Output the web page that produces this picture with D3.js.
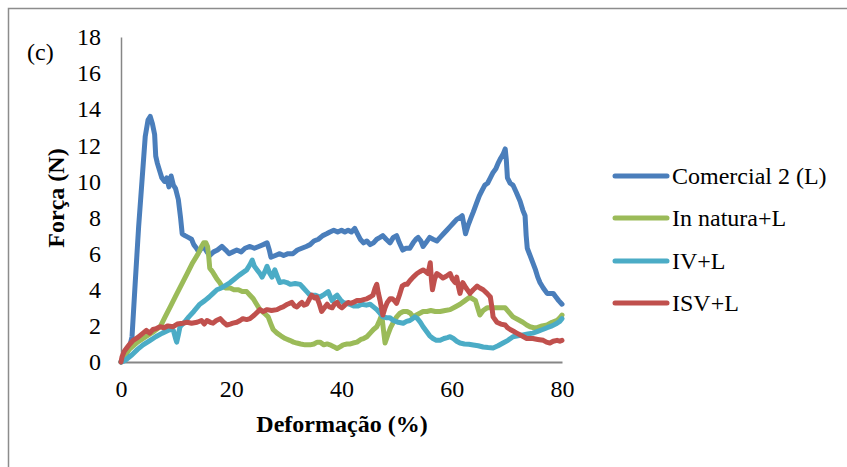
<!DOCTYPE html>
<html>
<head>
<meta charset="utf-8">
<script src="https://cdn.jsdelivr.net/npm/d3@7/dist/d3.min.js"></script>
<style>
  html, body { margin: 0; padding: 0; background: #fff; }
  svg { display: block; }
  text { font-family: "Liberation Serif", "Times New Roman", serif; fill: #000; }
</style>
</head>
<body>
<svg id="chart" width="847" height="467"></svg>
<script>
// Force–deformation curves, values as [deformation %, force N]
const comercial2 = [[0,0],[0.8,0.3],[1.6,0.9],[2.0,1.4],[2.6,4.5],[3.2,7.5],[3.8,10],[4.4,12.5],[4.9,13.4],[5.3,13.6],[5.7,13.2],[6.1,12.6],[6.3,11.4],[6.6,11.0],[7.0,10.6],[7.4,10.2],[7.9,10.0],[8.3,10.2],[8.7,9.7],[9.1,10.3],[9.5,9.8],[9.9,9.6],[10.4,9.0],[10.8,8.0],[11.1,7.1],[11.6,7.0],[12.2,6.9],[12.8,6.8],[13.2,6.5],[13.7,6.3],[14.1,6.1],[14.6,6.3],[15.0,6.4],[15.6,6.1],[16.1,5.9],[16.8,6.1],[17.5,6.2],[18.3,6.4],[19.0,6.2],[19.6,6.0],[20.3,6.1],[21.0,6.2],[21.8,6.1],[22.5,6.3],[23.4,6.4],[24.2,6.3],[25.0,6.4],[25.8,6.5],[26.5,6.6],[26.9,6.2],[27.2,5.8],[28.0,5.9],[28.8,6.0],[29.5,5.9],[30.3,6.0],[31.2,6.0],[32.0,6.2],[32.8,6.3],[33.6,6.4],[34.3,6.5],[35.0,6.7],[35.8,6.8],[36.6,7.0],[37.3,7.1],[37.9,7.2],[38.6,7.3],[39.3,7.2],[40.0,7.3],[40.6,7.2],[41.2,7.3],[41.8,7.2],[42.4,7.4],[42.9,7.1],[43.4,6.8],[44.0,6.6],[44.6,6.7],[45.2,6.5],[45.8,6.6],[46.4,6.8],[47.0,6.9],[47.5,7.0],[48.1,6.8],[48.8,6.6],[49.4,6.9],[50.0,7.0],[50.5,6.6],[51.1,6.2],[51.7,6.3],[52.4,6.3],[53.0,6.6],[53.5,6.8],[53.9,6.9],[54.4,6.7],[54.8,6.4],[55.3,6.6],[56.0,6.9],[56.6,6.8],[57.3,6.7],[57.9,6.9],[58.5,7.1],[59.1,7.3],[59.7,7.5],[60.3,7.7],[60.9,7.9],[61.5,8.0],[61.9,8.1],[62.2,7.6],[62.5,7.1],[63.0,7.6],[63.5,8.0],[63.9,8.3],[64.5,8.8],[65.0,9.2],[65.5,9.5],[66.0,9.8],[66.5,9.9],[67.0,10.2],[67.5,10.5],[68.0,10.7],[68.4,11.0],[68.9,11.3],[69.3,11.5],[69.7,11.8],[69.9,11.2],[70.1,10.2],[70.6,9.9],[71.1,9.8],[71.7,9.4],[72.4,8.9],[72.9,8.4],[73.3,8.1],[73.5,7.0],[73.7,6.3],[74.2,5.9],[74.7,5.5],[75.2,5.1],[75.6,4.7],[76.0,4.4],[76.6,4.1],[77.3,3.8],[77.9,3.8],[78.4,3.8],[78.9,3.6],[79.4,3.4],[80.0,3.2]];

const inNatura = [[0,0],[0.5,0.3],[1.5,0.7],[3,1.1],[4.5,1.4],[6,1.7],[7.1,1.95],[8.0,2.5],[9.0,3.1],[10.0,3.7],[11.0,4.3],[12.0,4.9],[13.0,5.5],[14.0,6.0],[14.6,6.4],[15.0,6.6],[15.4,6.6],[15.7,6.4],[15.9,5.9],[16.1,5.2],[16.6,5.0],[17.0,4.8],[17.4,4.6],[17.9,4.4],[18.3,4.2],[19.0,4.1],[19.8,4.1],[20.5,4.0],[21.3,4.0],[22.0,3.9],[22.8,3.9],[23.4,3.7],[24.0,3.5],[24.6,3.2],[25.2,2.9],[26.0,2.7],[26.7,2.5],[27.2,2.1],[27.6,1.8],[28.3,1.6],[29.0,1.45],[29.8,1.3],[30.6,1.2],[31.3,1.1],[31.9,1.05],[32.6,1.0],[33.4,0.95],[34.3,0.95],[35.0,1.0],[35.6,1.1],[36.1,1.1],[36.8,0.95],[37.4,1.0],[37.9,0.95],[38.6,0.85],[39.2,0.75],[39.8,0.85],[40.3,0.95],[41.0,1.0],[41.6,1.0],[42.1,1.05],[42.8,1.1],[43.5,1.25],[44.0,1.3],[44.6,1.4],[45.2,1.6],[45.8,1.8],[46.4,1.95],[46.9,2.3],[47.3,2.6],[47.6,1.8],[47.9,1.05],[48.4,1.5],[48.9,1.9],[49.4,2.2],[50.0,2.5],[50.6,2.7],[51.2,2.8],[51.9,2.8],[52.5,2.7],[53.0,2.5],[53.6,2.6],[54.2,2.7],[54.8,2.8],[55.5,2.8],[56.2,2.85],[57.0,2.8],[57.9,2.8],[58.8,2.85],[59.7,2.9],[60.6,3.05],[61.5,3.2],[62.4,3.4],[63.3,3.6],[63.8,3.5],[64.3,3.4],[64.7,3.0],[65.1,2.6],[65.7,2.85],[66.4,3.0],[67.2,3.0],[68.0,3.0],[68.8,3.0],[69.7,3.0],[70.4,2.75],[71.1,2.5],[72.0,2.35],[72.9,2.2],[73.6,2.05],[74.2,1.95],[74.9,1.9],[75.5,1.9],[76.4,2.0],[77.3,2.05],[78.2,2.2],[79.1,2.3],[79.6,2.45],[80.0,2.6]];

const ivL = [[0,0],[0.5,0.05],[1.0,0.15],[2.0,0.4],[3.0,0.7],[4.0,0.95],[5.3,1.2],[6.3,1.4],[7.5,1.6],[8.9,1.8],[9.5,1.75],[9.9,1.3],[10.1,1.1],[10.4,1.5],[10.7,1.95],[11.5,2.2],[12.3,2.5],[13.2,2.8],[14.3,3.2],[15.2,3.4],[16.0,3.6],[16.7,3.8],[17.4,4.0],[18.2,4.1],[19.0,4.25],[19.8,4.4],[20.6,4.6],[21.4,4.8],[22.1,4.95],[22.8,5.1],[23.4,5.4],[23.8,5.65],[24.2,5.3],[24.7,5.1],[25.2,4.9],[25.6,4.7],[26.1,5.0],[26.5,5.3],[27.0,4.9],[27.4,4.7],[27.9,5.1],[28.4,4.7],[28.8,4.4],[29.5,4.45],[30.1,4.4],[30.7,4.3],[31.6,4.35],[32.5,4.3],[33.1,4.1],[33.7,3.9],[34.3,3.7],[35.2,3.7],[36.1,3.6],[36.9,3.75],[37.6,3.9],[38.0,3.6],[38.3,3.4],[38.8,3.6],[39.2,3.7],[39.8,3.45],[40.3,3.3],[40.9,3.25],[41.5,3.2],[42.2,3.1],[43.0,3.1],[43.7,3.2],[44.5,3.15],[45.2,3.2],[45.8,3.05],[46.4,2.9],[47.0,2.7],[47.5,2.5],[48.2,2.45],[48.8,2.45],[49.4,2.3],[50.3,2.2],[51.2,2.15],[51.8,2.25],[52.4,2.3],[52.9,2.4],[53.3,2.5],[53.8,2.4],[54.3,2.2],[54.8,1.95],[55.4,1.7],[56.0,1.45],[56.6,1.3],[57.2,1.2],[57.9,1.2],[58.6,1.3],[59.2,1.35],[59.7,1.4],[60.3,1.3],[60.9,1.15],[61.5,1.05],[62.3,1.0],[63.1,0.98],[63.9,0.94],[64.8,0.9],[65.7,0.83],[66.6,0.8],[67.5,0.78],[68.4,0.9],[69.3,1.05],[70.2,1.2],[71.1,1.4],[72.0,1.45],[72.9,1.5],[73.8,1.55],[74.7,1.6],[75.6,1.7],[76.5,1.8],[77.3,1.9],[78.2,2.0],[79.1,2.15],[79.6,2.25],[80.0,2.4]];

const isvL = [[0,0],[0.2,0.3],[0.6,0.6],[1.1,0.8],[1.6,1.0],[2.2,1.2],[3.0,1.35],[4.0,1.6],[4.6,1.75],[5.2,1.6],[5.8,1.8],[6.4,1.85],[7.1,1.95],[7.8,1.9],[8.5,2.0],[9.4,1.95],[10.2,2.1],[11.2,2.15],[12.0,2.2],[12.8,2.15],[13.8,2.2],[14.6,2.3],[15.1,2.1],[15.6,2.3],[16.2,2.2],[16.7,2.15],[17.3,2.3],[18.0,2.4],[18.6,2.2],[19.2,2.05],[19.8,2.1],[20.3,2.15],[21.0,2.2],[21.6,2.3],[22.1,2.4],[22.8,2.35],[23.4,2.4],[24.2,2.6],[25.2,2.9],[25.8,2.8],[26.5,2.9],[27.3,2.85],[28.3,2.9],[28.9,3.0],[29.4,3.05],[30.2,3.2],[31.0,3.3],[31.5,3.1],[31.9,3.05],[32.4,3.2],[32.8,3.3],[33.2,3.15],[33.7,3.2],[34.2,3.5],[34.6,3.7],[35.1,3.55],[35.5,3.6],[36.0,3.2],[36.4,2.8],[36.9,3.0],[37.4,3.2],[37.8,3.05],[38.3,3.0],[38.7,3.2],[39.2,3.3],[39.6,3.1],[40.1,3.0],[40.6,3.15],[41.2,3.3],[41.7,3.25],[42.1,3.3],[42.8,3.4],[43.4,3.4],[44.0,3.45],[44.6,3.5],[45.2,3.6],[45.7,3.7],[46.1,4.1],[46.4,4.3],[46.7,3.8],[47.0,3.4],[47.3,2.9],[47.5,2.6],[47.9,3.0],[48.3,3.3],[48.8,3.5],[49.2,3.5],[49.6,3.4],[50.0,3.25],[50.5,3.7],[51.0,4.2],[51.5,4.3],[51.9,4.3],[52.4,4.5],[53.0,4.7],[53.7,4.9],[54.2,5.0],[54.8,5.1],[55.3,5.0],[55.7,4.9],[56.1,5.5],[56.3,4.6],[56.5,4.0],[56.9,4.6],[57.3,4.9],[57.8,4.8],[58.4,4.65],[59.0,4.75],[59.7,4.9],[60.1,4.6],[60.6,4.4],[60.9,4.7],[61.2,4.2],[61.5,3.8],[62.0,4.4],[62.6,4.1],[63.3,3.8],[63.9,4.0],[64.6,4.2],[65.1,4.1],[65.7,4.0],[66.4,3.8],[67.0,3.6],[67.3,3.0],[67.5,2.5],[68.2,2.2],[68.9,2.1],[69.7,2.05],[70.1,1.9],[70.6,1.8],[71.2,1.7],[71.8,1.6],[72.7,1.45],[73.6,1.3],[74.2,1.3],[74.7,1.3],[75.6,1.25],[76.6,1.2],[77.2,1.1],[77.8,1.05],[78.4,1.15],[79.1,1.2],[79.6,1.15],[80.0,1.2]];

const seriesNames = ["Comercial 2 (L)", "In natura+L", "IV+L", "ISV+L"];
const seriesColors = ["#4a7ebb", "#9bbb59", "#4bacc6", "#c0504d"];
const xTicks = [0, 20, 40, 60, 80];
const yTicks = [0, 2, 4, 6, 8, 10, 12, 14, 16, 18];

const allSeries = [comercial2, inNatura, ivL, isvL];

const FONT = "24px";
const svg = d3.select("#chart");

// outer frame (top and left edges visible)
svg.append("path")
  .attr("d", "M8.5,847 L8.5,8.5 L847,8.5")
  .attr("fill", "none")
  .attr("stroke", "#8c8c8c")
  .attr("stroke-width", 1.5);

const x = d3.scaleLinear().domain([0, 80]).range([121, 562]);
const y = d3.scaleLinear().domain([0, 18]).range([362, 37]);

// axes drawn without tick marks
const xAxis = svg.append("g").attr("transform", `translate(0,${y(0)})`)
  .call(d3.axisBottom(x).tickValues(xTicks).tickSize(0).tickPadding(18));
xAxis.select(".domain").attr("stroke", "#868686").attr("stroke-width", 2);
xAxis.selectAll("text").style("font-size", FONT).style("font-family", "Liberation Serif");

const yAxis = svg.append("g").attr("transform", `translate(${x(0)},0)`)
  .call(d3.axisLeft(y).tickValues(yTicks).tickSize(0).tickPadding(20));
yAxis.select(".domain").attr("stroke", "#868686").attr("stroke-width", 1.5);
yAxis.selectAll("text").style("font-size", FONT).style("font-family", "Liberation Serif");

const line = d3.line().x(d => x(d[0])).y(d => y(d[1]));

svg.append("g").selectAll("path")
  .data(allSeries)
  .join("path")
  .attr("d", line)
  .attr("fill", "none")
  .attr("stroke", (d, i) => seriesColors[i])
  .attr("stroke-width", 5)
  .attr("stroke-linejoin", "round")
  .attr("stroke-linecap", "round");

// axis titles
svg.append("text")
  .attr("x", 342).attr("y", 432)
  .attr("text-anchor", "middle")
  .style("font-size", FONT).style("font-weight", "bold")
  .text("Deformação (%)");

svg.append("text")
  .attr("transform", "translate(64,198) rotate(-90)")
  .attr("text-anchor", "middle")
  .style("font-size", FONT).style("font-weight", "bold")
  .text("Força (N)");

svg.append("text")
  .attr("x", 27).attr("y", 60)
  .style("font-size", FONT)
  .text("(c)");

// legend
const legend = svg.append("g");
const legendY = [176, 218, 261, 303];
seriesNames.forEach((name, i) => {
  legend.append("line")
    .attr("x1", 615).attr("x2", 667)
    .attr("y1", legendY[i]).attr("y2", legendY[i])
    .attr("stroke", seriesColors[i])
    .attr("stroke-width", 5)
    .attr("stroke-linecap", "round");
  legend.append("text")
    .attr("x", 672).attr("y", legendY[i])
    .attr("dy", "0.35em")
    .style("font-size", FONT)
    .text(name);
});
</script>
</body>
</html>
